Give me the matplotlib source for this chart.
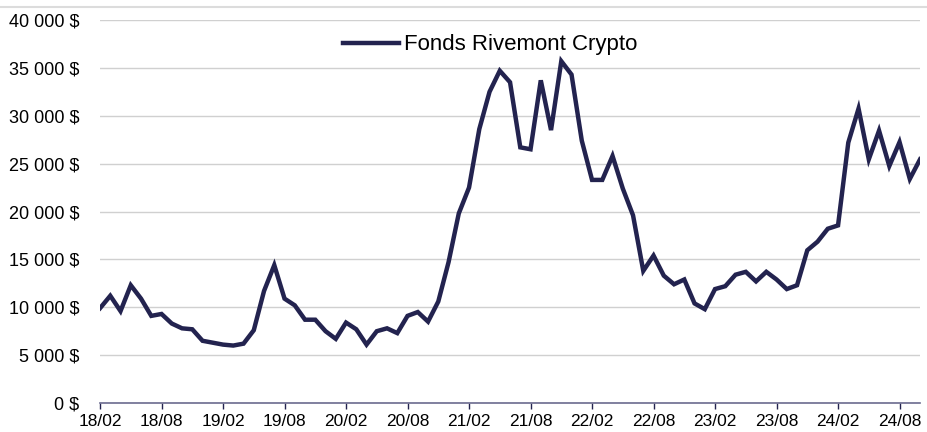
import numpy as np
import matplotlib.pyplot as plt
from matplotlib.lines import Line2D

plt.rcParams['font.family'] = ['Liberation Sans', 'DejaVu Sans']

# valeurs mensuelles 2018-02 .. 2024-10
valeurs = [9900, 11200, 9600, 12300, 10900, 9100, 9300, 8300, 7800, 7700,
           6500, 6300, 6100, 6000, 6200, 7600, 11700, 14400, 10900, 10200,
           8700, 8700, 7500, 6700, 8400, 7700, 6100, 7500, 7800, 7300,
           9100, 9500, 8500, 10600, 14700, 19800, 22500, 28600, 32500, 34700,
           33500, 26700, 26500, 33700, 28500, 35700, 34300, 27400, 23300, 23300,
           25800, 22400, 19600, 13800, 15400, 13300, 12400, 12900, 10400, 9800,
           11900, 12200, 13400, 13700, 12700, 13700, 12900, 11900, 12300, 15950,
           16850, 18200, 18550, 27200, 30750, 25450, 28450, 24750, 27250, 23400,
           25450]
etiquettes_x = ["18/02", "18/08", "19/02", "19/08", "20/02", "20/08", "21/02",
                "21/08", "22/02", "22/08", "23/02", "23/08", "24/02", "24/08"]
ticks_y = [0, 5000, 10000, 15000, 20000, 25000, 30000, 35000, 40000]
etiquettes_y = ["0 $", "5 000 $", "10 000 $", "15 000 $", "20 000 $",
                "25 000 $", "30 000 $", "35 000 $", "40 000 $"]

navy = '#23234f'
fig = plt.figure(figsize=(9.27, 4.32), dpi=100)
ax = fig.add_axes([0.1079, 0.0671, 0.8846, 0.8866])

x = np.arange(len(valeurs))
ax.plot(x, valeurs, color=navy, lw=3.2, label="Fonds Rivemont Crypto",
        solid_joinstyle='miter')

ax.set_xlim(0, len(valeurs) - 1)
ax.set_ylim(0, 40000)
ax.set_xticks(np.arange(0, 6 * len(etiquettes_x), 6))
ax.set_xticklabels(etiquettes_x, fontsize=12.5)
ax.set_yticks(ticks_y)
ax.set_yticklabels(etiquettes_y, fontsize=13)
ax.tick_params(axis='y', length=0, pad=15)
ax.tick_params(axis='x', direction='out', length=4, color=navy, width=1, pad=4)

ax.grid(axis='y', color='#d0d0d0', lw=1)
ax.set_axisbelow(True)
for s in ['top', 'right', 'left']:
    ax.spines[s].set_visible(False)
ax.spines['bottom'].set_color('#6b6b8f')
ax.spines['bottom'].set_linewidth(1.2)
ax.spines['bottom'].set_zorder(3)

ax.legend(loc='center', bbox_to_anchor=(0.476, 0.935), frameon=False,
          fontsize=16, handlelength=2.5, handletextpad=0.25)

fig.add_artist(Line2D([0, 1], [0.984, 0.984], color='#dcdcdc', lw=1.5,
                      transform=fig.transFigure))

plt.savefig("out.png")
